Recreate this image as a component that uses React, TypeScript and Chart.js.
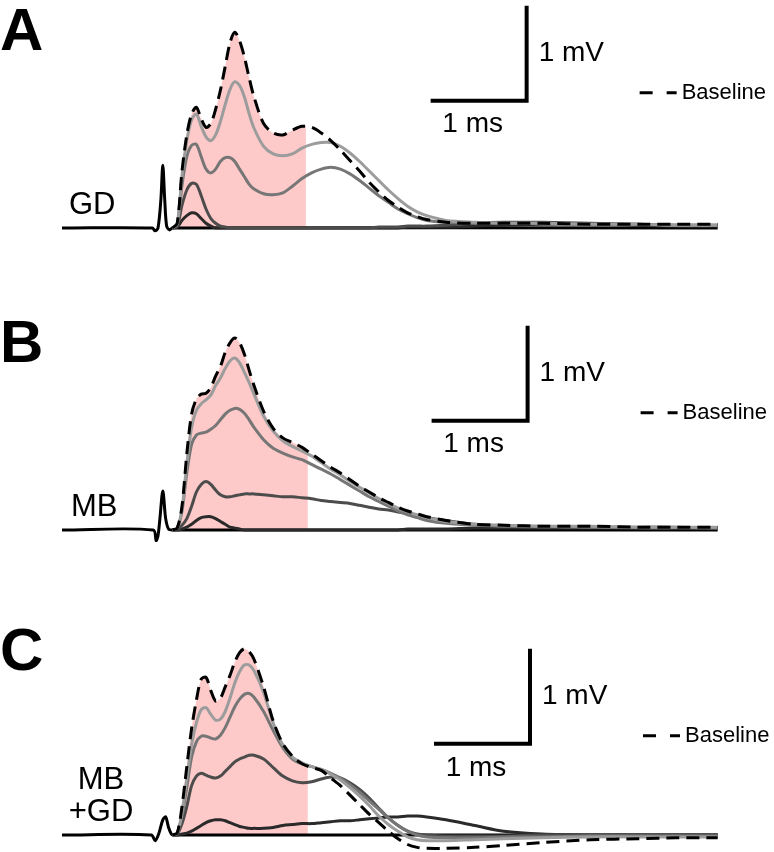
import React, { useEffect, useRef } from "react";
import { Chart, registerables } from "chart.js";

Chart.register(...registerables);

// ---------- DATA (time in ms, voltage in mV) ----------
const respTime = [
  1.15, 1.2, 1.25, 1.3, 1.35, 1.4, 1.45, 1.5, 1.55, 1.6, 1.65, 1.7, 1.75, 1.8, 1.85, 1.9, 1.95, 2.0,
  2.1, 2.2, 2.3, 2.4, 2.5, 2.6, 2.7, 2.8, 2.9, 3.0, 3.1, 3.2, 3.3, 3.4, 3.5, 3.6, 3.7, 3.8,
  4.0, 4.3, 4.6, 5.0, 5.5, 6.0, 6.4, 6.83,
];

// Panel A (GD)
const stimTimeA = [0, 0.94, 0.97, 1.0, 1.03, 1.05, 1.07, 1.09, 1.12, 1.15, 6.83];
const stimA = [0, 0, -0.03, 0, 0.3, 0.66, 0.3, 0.02, -0.02, 0, 0];
const dashedA = [
  0, 0.05, 0.6, 0.98, 1.2, 1.27, 1.15, 1.06, 1.1, 1.25, 1.45, 1.7, 1.95, 2.06, 1.97, 1.8, 1.58, 1.38,
  1.1, 1.0, 0.98, 1.03, 1.07, 1.06, 1.0, 0.92, 0.82, 0.71, 0.6, 0.48, 0.38, 0.29, 0.22, 0.16, 0.12, 0.09,
  0.06, 0.05, 0.05, 0.05, 0.04, 0.04, 0.04, 0.04,
];
const lightA = [
  0, 0.04, 0.55, 0.92, 1.14, 1.2, 1.07, 0.96, 0.92, 0.98, 1.12, 1.3, 1.46, 1.54, 1.5, 1.38, 1.2, 1.05,
  0.86, 0.78, 0.76, 0.78, 0.84, 0.88, 0.9, 0.9, 0.86, 0.79, 0.7, 0.6, 0.5, 0.4, 0.31, 0.23, 0.17, 0.13,
  0.08, 0.06, 0.05, 0.05, 0.04, 0.04, 0.03, 0.03,
];
const midA = [
  0, 0.04, 0.45, 0.75, 0.87, 0.88, 0.75, 0.62, 0.58, 0.62, 0.7, 0.74, 0.74, 0.7, 0.62, 0.54, 0.46, 0.41,
  0.36, 0.35, 0.37, 0.44, 0.52, 0.58, 0.62, 0.64, 0.62, 0.57, 0.5, 0.42, 0.34, 0.27, 0.2, 0.15, 0.11, 0.08,
  0.06, 0.05, 0.05, 0.05, 0.04, 0.04, 0.03, 0.03,
];
const darkA = [
  0, 0.02, 0.24, 0.4, 0.47, 0.46, 0.34, 0.2, 0.1, 0.05, 0.02, 0.01, 0, 0, 0, 0, 0, 0,
  0, 0, 0, 0, 0, 0, 0, 0, 0, 0, 0, 0, 0.01, 0.01, 0.01, 0.02, 0.02, 0.02,
  0.03, 0.05, 0.06, 0.06, 0.05, 0.04, 0.03, 0.03,
];
const darkestA = [
  0, 0.01, 0.08, 0.13, 0.16, 0.15, 0.1, 0.05, 0.02, 0, 0, 0, 0, 0, 0, 0, 0, 0,
  0, 0, 0, 0, 0, 0, 0, 0, 0, 0, 0, 0, 0, 0, 0, 0.01, 0.01, 0.01,
  0.01, 0.02, 0.03, 0.04, 0.04, 0.03, 0.02, 0.02,
];

// Panel B (MB)
const stimTimeB = [0, 0.95, 0.98, 1.0, 1.02, 1.05, 1.08, 1.11, 1.15, 6.83];
const stimB = [0, 0, -0.11, -0.06, 0.12, 0.41, 0.12, 0.01, 0, 0];
const dashedB = [
  0, 0.02, 0.25, 0.8, 1.22, 1.38, 1.43, 1.44, 1.5, 1.62, 1.72, 1.87, 1.97, 2.02, 1.97, 1.85, 1.68, 1.52,
  1.25, 1.07, 0.97, 0.92, 0.87, 0.8, 0.73, 0.66, 0.6, 0.53, 0.46, 0.4, 0.34, 0.29, 0.24, 0.2, 0.17, 0.14,
  0.1, 0.06, 0.05, 0.04, 0.04, 0.03, 0.03, 0.03,
];
const lightB = [
  0, 0.02, 0.22, 0.7, 1.08, 1.26, 1.33, 1.37, 1.42, 1.52, 1.6, 1.7, 1.78, 1.81, 1.76, 1.66, 1.55, 1.43,
  1.2, 1.04, 0.94, 0.88, 0.83, 0.78, 0.71, 0.64, 0.58, 0.51, 0.45, 0.39, 0.33, 0.28, 0.23, 0.19, 0.16, 0.13,
  0.09, 0.06, 0.05, 0.04, 0.04, 0.03, 0.03, 0.03,
];
const midB = [
  0, 0.02, 0.2, 0.6, 0.9, 1.0, 1.02, 1.03, 1.06, 1.1, 1.16, 1.22, 1.26, 1.28, 1.27, 1.23, 1.16, 1.08,
  0.95, 0.86, 0.81, 0.77, 0.74, 0.69, 0.64, 0.59, 0.53, 0.47, 0.41, 0.35, 0.3, 0.25, 0.2, 0.16, 0.13, 0.1,
  0.07, 0.05, 0.04, 0.04, 0.03, 0.03, 0.03, 0.02,
];
const darkB = [
  0, 0.01, 0.05, 0.12, 0.25, 0.4, 0.48, 0.51, 0.48, 0.42, 0.37, 0.35, 0.35, 0.36, 0.37, 0.38, 0.38, 0.38,
  0.37, 0.36, 0.35, 0.35, 0.34, 0.33, 0.31, 0.3, 0.29, 0.28, 0.26, 0.24, 0.22, 0.21, 0.19, 0.17, 0.15, 0.13,
  0.1, 0.06, 0.04, 0.03, 0.03, 0.02, 0.02, 0.02,
];
const darkestB = [
  0, 0, 0.01, 0.03, 0.06, 0.1, 0.13, 0.14, 0.14, 0.12, 0.09, 0.06, 0.03, 0.02, 0.01, 0, 0, 0,
  0, 0, 0, 0, 0, 0, 0, 0, 0, 0, 0, 0, 0, 0, 0, 0.01, 0.01, 0.01,
  0.01, 0.02, 0.02, 0.02, 0.02, 0.02, 0.02, 0.02,
];

// Panel C (MB + GD)
const stimTimeC = [0, 0.93, 0.97, 1.01, 1.05, 1.08, 1.11, 1.14, 1.17, 6.83];
const stimC = [0, 0, -0.06, 0.02, 0.16, 0.19, 0.08, 0.01, 0, 0];
const dashedC = [
  0, 0.02, 0.3, 0.72, 1.12, 1.42, 1.64, 1.66, 1.52, 1.41, 1.44, 1.56, 1.68, 1.82, 1.92, 1.96, 1.93, 1.85,
  1.56, 1.2, 0.96, 0.83, 0.75, 0.71, 0.68, 0.6, 0.52, 0.42, 0.32, 0.22, 0.13, 0.04, -0.04, -0.1, -0.13, -0.14,
  -0.14, -0.13, -0.11, -0.08, -0.05, -0.04, -0.03, -0.03,
];
const lightC = [
  0, 0.02, 0.24, 0.6, 0.95, 1.18, 1.32, 1.34, 1.27, 1.21, 1.22, 1.3, 1.44, 1.6, 1.72, 1.79, 1.79, 1.73,
  1.5, 1.18, 0.95, 0.82, 0.76, 0.72, 0.69, 0.64, 0.58, 0.5, 0.41, 0.31, 0.2, 0.11, 0.04, -0.02, -0.05, -0.06,
  -0.06, -0.05, -0.04, -0.03, -0.02, -0.02, -0.02, -0.02,
];
const midC = [
  0, 0.02, 0.2, 0.5, 0.82, 0.98, 1.04, 1.04, 1.02, 1.01, 1.05, 1.13, 1.24, 1.35, 1.43, 1.48, 1.49, 1.45,
  1.3, 1.1, 0.92, 0.8, 0.75, 0.72, 0.69, 0.65, 0.6, 0.53, 0.45, 0.36, 0.27, 0.18, 0.1, 0.04, 0, -0.02,
  -0.03, -0.03, -0.02, -0.02, -0.01, -0.01, -0.01, -0.01,
];
const darkC = [
  0, 0.01, 0.12, 0.3, 0.52, 0.62, 0.65, 0.63, 0.61, 0.6, 0.62, 0.67, 0.72, 0.77, 0.8, 0.82, 0.84, 0.84,
  0.8, 0.71, 0.62, 0.57, 0.55, 0.56, 0.59, 0.61, 0.6, 0.55, 0.48, 0.39, 0.28, 0.18, 0.1, 0.04, 0.01, 0,
  -0.01, -0.01, -0.01, 0, 0, 0, 0, 0,
];
const darkestC = [
  0, 0, 0.01, 0.02, 0.04, 0.07, 0.1, 0.13, 0.15, 0.16, 0.16, 0.15, 0.13, 0.11, 0.09, 0.08, 0.07, 0.07,
  0.07, 0.08, 0.1, 0.11, 0.12, 0.12, 0.13, 0.14, 0.15, 0.15, 0.16, 0.17, 0.18, 0.19, 0.19, 0.2, 0.2, 0.19,
  0.16, 0.1, 0.04, 0.01, 0, 0, 0, 0,
];

const panelLetters = ["A", "B", "C"];
const conditionLabels = [["GD"], ["MB"], ["MB", "+GD"]];
const voltageBarLabel = "1 mV";
const timeBarLabel = "1 ms";
const legendLabel = "Baseline";

// ---------- LAYOUT / STYLE ----------
const CANVAS_W = 774;
const CANVAS_H = 284;
const PX_PER_MS = 96;
const PX_PER_MV = 95;
const ORIGIN_X = 62;
const FONT = '"Liberation Sans", Arial, Helvetica, sans-serif';
const TRACE_COLORS = ["#9c9c9c", "#767676", "#4c4c4c", "#2a2a2a"];
const SHADE = "#fdc9c9";

type PanelCfg = {
  letter: string;
  letterY: number;
  labels: string[];
  labelX: number;
  labelY: number[];
  labelAlign: CanvasTextAlign;
  baselinePx: number;
  stimT: number[];
  stimV: number[];
  dashed: number[];
  traces: number[][];
  shadeStart: number;
  shadeEnd: number;
  barT: number;
  barV: number;
};

const panels: PanelCfg[] = [
  {
    letter: panelLetters[0], letterY: 50, labels: conditionLabels[0], labelX: 69, labelY: [214], labelAlign: "left",
    baselinePx: 228, stimT: stimTimeA, stimV: stimA, dashed: dashedA,
    traces: [lightA, midA, darkA, darkestA], shadeStart: 1.1, shadeEnd: 2.54, barT: 4.84, barV: 1.34,
  },
  {
    letter: panelLetters[1], letterY: 78, labels: conditionLabels[1], labelX: 71, labelY: [232], labelAlign: "left",
    baselinePx: 246, stimT: stimTimeB, stimV: stimB, dashed: dashedB,
    traces: [lightB, midB, darkB, darkestB], shadeStart: 1.1, shadeEnd: 2.56, barT: 4.85, barV: 1.15,
  },
  {
    letter: panelLetters[2], letterY: 102, labels: conditionLabels[2], labelX: 101, labelY: [221, 253], labelAlign: "center",
    baselinePx: 267, stimT: stimTimeC, stimV: stimC, dashed: dashedC,
    traces: [lightC, midC, darkC, darkestC], shadeStart: 1.1, shadeEnd: 2.56, barT: 4.875, barV: 0.96,
  },
];

const toXY = (ts: number[], vs: number[]) => ts.map((t, i) => ({ x: t, y: vs[i] }));

function makeDecor(p: PanelCfg) {
  return {
    id: "panelDecor",
    beforeDatasetsDraw(chart: any) {
      const ctx: CanvasRenderingContext2D = chart.ctx;
      const xs = chart.scales.x;
      const ys = chart.scales.y;
      const area = chart.chartArea;
      const meta = chart.getDatasetMeta(0);
      const line = meta.dataset;
      const pts = meta.data;
      const y0 = ys.getPixelForValue(0);
      const x0 = xs.getPixelForValue(p.shadeStart);
      const x1 = xs.getPixelForValue(p.shadeEnd);
      ctx.save();
      ctx.beginPath();
      ctx.rect(x0, area.top, x1 - x0, area.bottom - area.top);
      ctx.clip();
      ctx.beginPath();
      let ok = false;
      try {
        if (line && typeof line.updateControlPoints === "function") line.updateControlPoints(area, "x");
        if (line && typeof line.path === "function") {
          line.path(ctx);
          ok = true;
        }
      } catch (e) {
        ok = false;
      }
      if (!ok) {
        ctx.beginPath();
        pts.forEach((pt: any, i: number) => (i ? ctx.lineTo(pt.x, pt.y) : ctx.moveTo(pt.x, pt.y)));
      }
      ctx.lineTo(pts[pts.length - 1].x, y0);
      ctx.lineTo(pts[0].x, y0);
      ctx.closePath();
      ctx.fillStyle = SHADE;
      ctx.fill();
      ctx.restore();
    },
    afterDatasetsDraw(chart: any) {
      const ctx: CanvasRenderingContext2D = chart.ctx;
      const xs = chart.scales.x;
      const ys = chart.scales.y;
      const cx = xs.getPixelForValue(p.barT);
      const cy = ys.getPixelForValue(p.barV);
      const left = xs.getPixelForValue(p.barT - 1);
      const top = ys.getPixelForValue(p.barV + 1);
      ctx.save();
      // scale bars
      ctx.strokeStyle = "#000";
      ctx.lineWidth = 4;
      ctx.lineJoin = "miter";
      ctx.lineCap = "butt";
      ctx.beginPath();
      ctx.moveTo(left, cy);
      ctx.lineTo(cx, cy);
      ctx.lineTo(cx, top);
      ctx.stroke();
      ctx.fillStyle = "#000";
      ctx.font = `28px ${FONT}`;
      ctx.textBaseline = "middle";
      ctx.textAlign = "left";
      ctx.fillText(voltageBarLabel, cx + 12, (cy + top) / 2);
      ctx.textAlign = "center";
      ctx.fillText(timeBarLabel, (left + cx) / 2 - 6, cy + 24);
      // legend
      const ly = cy - 8;
      ctx.lineWidth = 3;
      ctx.setLineDash([13, 14]);
      ctx.beginPath();
      ctx.moveTo(cx + 113, ly);
      ctx.lineTo(cx + 150, ly);
      ctx.stroke();
      ctx.setLineDash([]);
      ctx.font = `22px ${FONT}`;
      ctx.textAlign = "left";
      ctx.fillText(legendLabel, cx + 155, ly);
      // panel letter
      ctx.font = `bold 60px ${FONT}`;
      ctx.textBaseline = "alphabetic";
      ctx.textAlign = "left";
      ctx.fillText(p.letter, 0, p.letterY);
      // condition label
      ctx.font = `31px ${FONT}`;
      ctx.textAlign = p.labelAlign;
      p.labels.forEach((s, i) => ctx.fillText(s, p.labelX, p.labelY[i]));
      ctx.restore();
    },
  };
}

function Panel({ p }: { p: PanelCfg }) {
  const ref = useRef<HTMLCanvasElement | null>(null);
  useEffect(() => {
    if (!ref.current) return;
    const datasets: any[] = [
      {
        data: toXY(respTime, p.dashed),
        borderColor: "#000",
        borderWidth: 3,
        borderDash: [13, 7],
      },
      ...p.traces.map((tr, i) => ({
        data: toXY(respTime, tr),
        borderColor: TRACE_COLORS[i],
        borderWidth: 3,
      })),
      { data: toXY(p.stimT, p.stimV), borderColor: "#000", borderWidth: 3 },
    ];
    const chart = new Chart(ref.current, {
      type: "line",
      data: { datasets },
      options: {
        animation: false,
        responsive: false,
        maintainAspectRatio: false,
        events: [],
        layout: { padding: 0 },
        elements: {
          point: { radius: 0 },
          line: { tension: 0.3, fill: false, borderJoinStyle: "round" },
        },
        scales: {
          x: {
            type: "linear",
            display: false,
            min: -ORIGIN_X / PX_PER_MS,
            max: (CANVAS_W - ORIGIN_X) / PX_PER_MS,
          },
          y: {
            type: "linear",
            display: false,
            min: -(CANVAS_H - p.baselinePx) / PX_PER_MV,
            max: p.baselinePx / PX_PER_MV,
          },
        },
        plugins: { legend: { display: false }, tooltip: { enabled: false } },
      },
      plugins: [makeDecor(p)],
    } as any);
    return () => chart.destroy();
  }, [p]);
  return (
    <canvas
      ref={ref}
      width={CANVAS_W}
      height={CANVAS_H}
      style={{ display: "block", width: CANVAS_W, height: CANVAS_H }}
    />
  );
}

export default function App() {
  return (
    <div
      style={{
        position: "absolute",
        left: 0,
        top: 0,
        width: CANVAS_W,
        height: CANVAS_H * 3,
        background: "#fff",
      }}
    >
      {panels.map((p) => (
        <Panel key={p.letter} p={p} />
      ))}
    </div>
  );
}
